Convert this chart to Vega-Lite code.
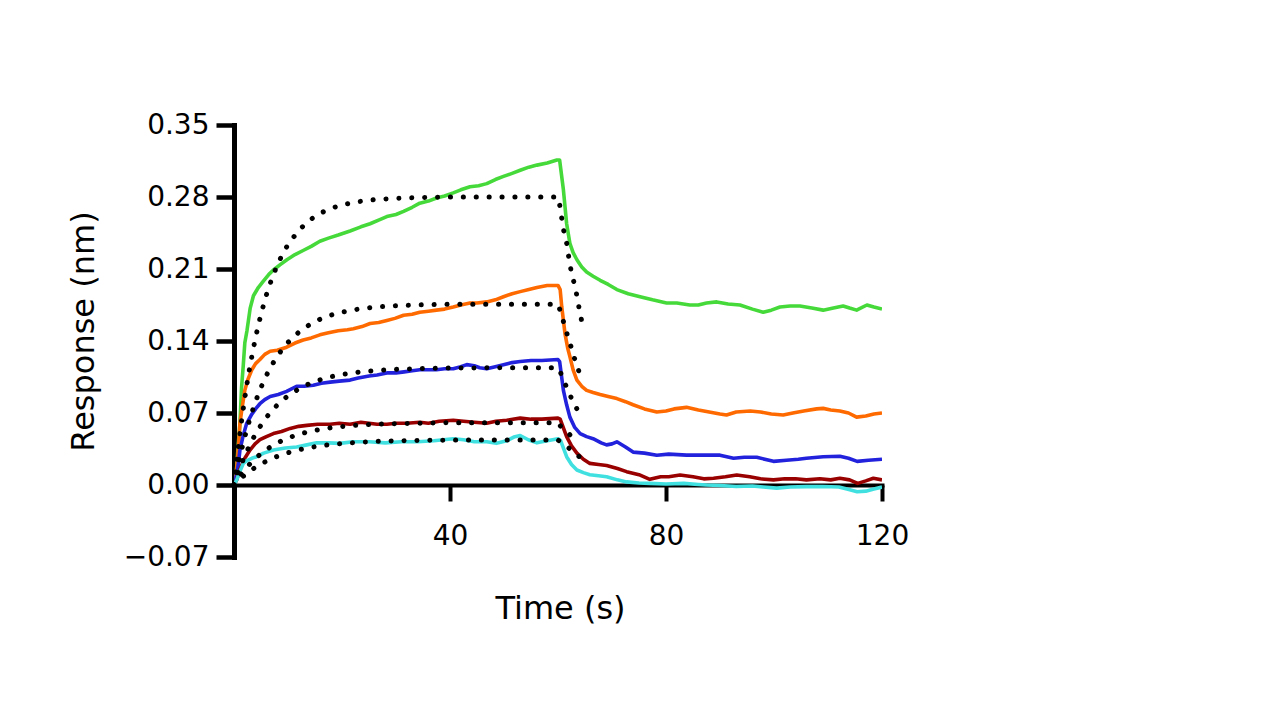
{
  "$schema": "https://vega.github.io/schema/vega-lite/v6.json",
  "width": 648,
  "height": 432,
  "autosize": {"type": "none"},
  "padding": {"left": 234, "top": 125, "right": 398, "bottom": 163},
  "background": "white",
  "config": {"view": {"stroke": null}},
  "datasets": {
    "measured": [
      {"curve":"c1","time":0,"resp":0},{"curve":"c1","time":0.4,"resp":0.01},{"curve":"c1","time":0.8,"resp":0.04},{"curve":"c1","time":1.1,"resp":0.06},{"curve":"c1","time":1.4,"resp":0.095},{"curve":"c1","time":1.7,"resp":0.115},{"curve":"c1","time":2.0,"resp":0.138},{"curve":"c1","time":2.4,"resp":0.15},{"curve":"c1","time":3.0,"resp":0.172},{"curve":"c1","time":3.6,"resp":0.184},{"curve":"c1","time":4.5,"resp":0.192},{"curve":"c1","time":5.4,"resp":0.198},{"curve":"c1","time":6.5,"resp":0.205},{"curve":"c1","time":7.3,"resp":0.209},{"curve":"c1","time":8.5,"resp":0.214},{"curve":"c1","time":9.8,"resp":0.219},{"curve":"c1","time":11.3,"resp":0.224},{"curve":"c1","time":12.8,"resp":0.228},{"curve":"c1","time":14.3,"resp":0.232},{"curve":"c1","time":15.9,"resp":0.237},{"curve":"c1","time":17.5,"resp":0.24},{"curve":"c1","time":19.3,"resp":0.243},{"curve":"c1","time":21.5,"resp":0.247},{"curve":"c1","time":23.5,"resp":0.251},{"curve":"c1","time":25.2,"resp":0.254},{"curve":"c1","time":27,"resp":0.258},{"curve":"c1","time":28.3,"resp":0.261},{"curve":"c1","time":30,"resp":0.263},{"curve":"c1","time":31.4,"resp":0.266},{"curve":"c1","time":33,"resp":0.27},{"curve":"c1","time":34.4,"resp":0.274},{"curve":"c1","time":36,"resp":0.276},{"curve":"c1","time":37.5,"resp":0.279},{"curve":"c1","time":39,"resp":0.281},{"curve":"c1","time":40.6,"resp":0.284},{"curve":"c1","time":42,"resp":0.287},{"curve":"c1","time":43.7,"resp":0.29},{"curve":"c1","time":45.3,"resp":0.291},{"curve":"c1","time":46.8,"resp":0.293},{"curve":"c1","time":48.4,"resp":0.297},{"curve":"c1","time":49.9,"resp":0.3},{"curve":"c1","time":51.5,"resp":0.303},{"curve":"c1","time":53,"resp":0.306},{"curve":"c1","time":54.6,"resp":0.309},{"curve":"c1","time":56.1,"resp":0.311},{"curve":"c1","time":58,"resp":0.313},{"curve":"c1","time":59.8,"resp":0.316},{"curve":"c1","time":60.3,"resp":0.316},{"curve":"c1","time":61,"resp":0.287},{"curve":"c1","time":61.6,"resp":0.254},{"curve":"c1","time":62.2,"resp":0.235},{"curve":"c1","time":62.8,"resp":0.226},{"curve":"c1","time":63.5,"resp":0.219},{"curve":"c1","time":64.4,"resp":0.212},{"curve":"c1","time":65.3,"resp":0.207},{"curve":"c1","time":66.5,"resp":0.203},{"curve":"c1","time":67.8,"resp":0.199},{"curve":"c1","time":69.3,"resp":0.195},{"curve":"c1","time":70.9,"resp":0.19},{"curve":"c1","time":73,"resp":0.186},{"curve":"c1","time":75.2,"resp":0.183},{"curve":"c1","time":77.5,"resp":0.18},{"curve":"c1","time":80.1,"resp":0.177},{"curve":"c1","time":82,"resp":0.177},{"curve":"c1","time":84.4,"resp":0.175},{"curve":"c1","time":86,"resp":0.175},{"curve":"c1","time":87.5,"resp":0.177},{"curve":"c1","time":89.4,"resp":0.178},{"curve":"c1","time":91.5,"resp":0.176},{"curve":"c1","time":93.7,"resp":0.175},{"curve":"c1","time":96,"resp":0.171},{"curve":"c1","time":98,"resp":0.168},{"curve":"c1","time":99.5,"resp":0.17},{"curve":"c1","time":101.1,"resp":0.173},{"curve":"c1","time":103,"resp":0.174},{"curve":"c1","time":104.8,"resp":0.174},{"curve":"c1","time":107,"resp":0.172},{"curve":"c1","time":109.1,"resp":0.17},{"curve":"c1","time":111,"resp":0.172},{"curve":"c1","time":112.8,"resp":0.174},{"curve":"c1","time":114,"resp":0.172},{"curve":"c1","time":115.3,"resp":0.17},{"curve":"c1","time":117.2,"resp":0.175},{"curve":"c1","time":118.5,"resp":0.173},{"curve":"c1","time":120,"resp":0.171},

      {"curve":"c2","time":0,"resp":0},{"curve":"c2","time":0.4,"resp":0.01},{"curve":"c2","time":0.8,"resp":0.035},{"curve":"c2","time":1.1,"resp":0.06},{"curve":"c2","time":1.5,"resp":0.075},{"curve":"c2","time":2.0,"resp":0.092},{"curve":"c2","time":2.6,"resp":0.103},{"curve":"c2","time":3.3,"resp":0.112},{"curve":"c2","time":4.0,"resp":0.118},{"curve":"c2","time":4.8,"resp":0.122},{"curve":"c2","time":5.7,"resp":0.127},{"curve":"c2","time":6.7,"resp":0.13},{"curve":"c2","time":8,"resp":0.131},{"curve":"c2","time":9.75,"resp":0.134},{"curve":"c2","time":11.3,"resp":0.138},{"curve":"c2","time":12.8,"resp":0.141},{"curve":"c2","time":14.3,"resp":0.143},{"curve":"c2","time":15.9,"resp":0.146},{"curve":"c2","time":17.5,"resp":0.148},{"curve":"c2","time":19.3,"resp":0.15},{"curve":"c2","time":21,"resp":0.151},{"curve":"c2","time":22.1,"resp":0.152},{"curve":"c2","time":23.7,"resp":0.154},{"curve":"c2","time":25.2,"resp":0.157},{"curve":"c2","time":26.8,"resp":0.158},{"curve":"c2","time":28.3,"resp":0.16},{"curve":"c2","time":29.8,"resp":0.162},{"curve":"c2","time":31.4,"resp":0.165},{"curve":"c2","time":33,"resp":0.166},{"curve":"c2","time":34.4,"resp":0.168},{"curve":"c2","time":36,"resp":0.169},{"curve":"c2","time":37.5,"resp":0.17},{"curve":"c2","time":39,"resp":0.171},{"curve":"c2","time":40.6,"resp":0.173},{"curve":"c2","time":42,"resp":0.175},{"curve":"c2","time":43.7,"resp":0.177},{"curve":"c2","time":45,"resp":0.177},{"curve":"c2","time":46.8,"resp":0.178},{"curve":"c2","time":48.4,"resp":0.18},{"curve":"c2","time":49.9,"resp":0.183},{"curve":"c2","time":51.5,"resp":0.186},{"curve":"c2","time":53,"resp":0.188},{"curve":"c2","time":54.6,"resp":0.19},{"curve":"c2","time":56.1,"resp":0.192},{"curve":"c2","time":58,"resp":0.194},{"curve":"c2","time":60,"resp":0.194},{"curve":"c2","time":60.4,"resp":0.19},{"curve":"c2","time":60.7,"resp":0.173},{"curve":"c2","time":61.3,"resp":0.147},{"curve":"c2","time":61.8,"resp":0.133},{"curve":"c2","time":62.2,"resp":0.125},{"curve":"c2","time":62.8,"resp":0.112},{"curve":"c2","time":63.5,"resp":0.102},{"curve":"c2","time":64.4,"resp":0.096},{"curve":"c2","time":65.3,"resp":0.092},{"curve":"c2","time":66.5,"resp":0.09},{"curve":"c2","time":67.8,"resp":0.088},{"curve":"c2","time":69.3,"resp":0.086},{"curve":"c2","time":70.9,"resp":0.084},{"curve":"c2","time":72.5,"resp":0.081},{"curve":"c2","time":73.9,"resp":0.078},{"curve":"c2","time":76,"resp":0.074},{"curve":"c2","time":78.3,"resp":0.071},{"curve":"c2","time":80,"resp":0.072},{"curve":"c2","time":81.5,"resp":0.074},{"curve":"c2","time":83.8,"resp":0.0755},{"curve":"c2","time":86,"resp":0.073},{"curve":"c2","time":88,"resp":0.071},{"curve":"c2","time":90,"resp":0.069},{"curve":"c2","time":91.2,"resp":0.068},{"curve":"c2","time":93,"resp":0.071},{"curve":"c2","time":95.6,"resp":0.072},{"curve":"c2","time":97.5,"resp":0.071},{"curve":"c2","time":99.5,"resp":0.069},{"curve":"c2","time":101.7,"resp":0.068},{"curve":"c2","time":103.5,"resp":0.07},{"curve":"c2","time":105.5,"resp":0.072},{"curve":"c2","time":107.9,"resp":0.074},{"curve":"c2","time":109.1,"resp":0.0745},{"curve":"c2","time":110.5,"resp":0.073},{"curve":"c2","time":112.2,"resp":0.072},{"curve":"c2","time":113.8,"resp":0.07},{"curve":"c2","time":115.3,"resp":0.066},{"curve":"c2","time":117,"resp":0.067},{"curve":"c2","time":118.5,"resp":0.069},{"curve":"c2","time":120,"resp":0.07},

      {"curve":"c3","time":0,"resp":0},{"curve":"c3","time":0.4,"resp":0.008},{"curve":"c3","time":0.8,"resp":0.02},{"curve":"c3","time":1.1,"resp":0.034},{"curve":"c3","time":1.7,"resp":0.048},{"curve":"c3","time":2.35,"resp":0.06},{"curve":"c3","time":3.2,"resp":0.068},{"curve":"c3","time":4.0,"resp":0.074},{"curve":"c3","time":4.8,"resp":0.079},{"curve":"c3","time":5.7,"resp":0.083},{"curve":"c3","time":6.7,"resp":0.086},{"curve":"c3","time":8.2,"resp":0.088},{"curve":"c3","time":9.75,"resp":0.091},{"curve":"c3","time":11.6,"resp":0.096},{"curve":"c3","time":13,"resp":0.096},{"curve":"c3","time":14.7,"resp":0.097},{"curve":"c3","time":16.2,"resp":0.099},{"curve":"c3","time":17.8,"resp":0.1},{"curve":"c3","time":19.5,"resp":0.101},{"curve":"c3","time":21.5,"resp":0.102},{"curve":"c3","time":23,"resp":0.104},{"curve":"c3","time":25,"resp":0.106},{"curve":"c3","time":26.5,"resp":0.107},{"curve":"c3","time":28.3,"resp":0.109},{"curve":"c3","time":30,"resp":0.109},{"curve":"c3","time":31.5,"resp":0.11},{"curve":"c3","time":33,"resp":0.111},{"curve":"c3","time":34.4,"resp":0.112},{"curve":"c3","time":36,"resp":0.112},{"curve":"c3","time":37.5,"resp":0.112},{"curve":"c3","time":39,"resp":0.113},{"curve":"c3","time":40.6,"resp":0.113},{"curve":"c3","time":42,"resp":0.115},{"curve":"c3","time":43.1,"resp":0.117},{"curve":"c3","time":44.5,"resp":0.116},{"curve":"c3","time":45.5,"resp":0.114},{"curve":"c3","time":46.8,"resp":0.113},{"curve":"c3","time":48.4,"resp":0.115},{"curve":"c3","time":49.9,"resp":0.117},{"curve":"c3","time":51.5,"resp":0.119},{"curve":"c3","time":53,"resp":0.12},{"curve":"c3","time":55,"resp":0.121},{"curve":"c3","time":57,"resp":0.121},{"curve":"c3","time":60,"resp":0.122},{"curve":"c3","time":60.3,"resp":0.12},{"curve":"c3","time":61,"resp":0.092},{"curve":"c3","time":61.6,"resp":0.078},{"curve":"c3","time":62.2,"resp":0.066},{"curve":"c3","time":63.1,"resp":0.056},{"curve":"c3","time":64.1,"resp":0.05},{"curve":"c3","time":65.3,"resp":0.047},{"curve":"c3","time":66.5,"resp":0.045},{"curve":"c3","time":68,"resp":0.041},{"curve":"c3","time":69,"resp":0.039},{"curve":"c3","time":70,"resp":0.04},{"curve":"c3","time":70.9,"resp":0.042},{"curve":"c3","time":72.5,"resp":0.037},{"curve":"c3","time":73.9,"resp":0.032},{"curve":"c3","time":76,"resp":0.031},{"curve":"c3","time":78.3,"resp":0.029},{"curve":"c3","time":80.5,"resp":0.03},{"curve":"c3","time":83.8,"resp":0.029},{"curve":"c3","time":86.5,"resp":0.029},{"curve":"c3","time":90,"resp":0.029},{"curve":"c3","time":92.5,"resp":0.026},{"curve":"c3","time":94.5,"resp":0.027},{"curve":"c3","time":96.8,"resp":0.027},{"curve":"c3","time":99.9,"resp":0.023},{"curve":"c3","time":102.3,"resp":0.024},{"curve":"c3","time":104.5,"resp":0.025},{"curve":"c3","time":106,"resp":0.026},{"curve":"c3","time":109.1,"resp":0.0275},{"curve":"c3","time":112.2,"resp":0.028},{"curve":"c3","time":113.8,"resp":0.026},{"curve":"c3","time":115.4,"resp":0.023},{"curve":"c3","time":117.5,"resp":0.024},{"curve":"c3","time":120,"resp":0.025},

      {"curve":"c4","time":0,"resp":0},{"curve":"c4","time":0.5,"resp":0.005},{"curve":"c4","time":1.1,"resp":0.015},{"curve":"c4","time":2.0,"resp":0.026},{"curve":"c4","time":2.96,"resp":0.034},{"curve":"c4","time":3.9,"resp":0.04},{"curve":"c4","time":4.8,"resp":0.044},{"curve":"c4","time":6,"resp":0.047},{"curve":"c4","time":7.3,"resp":0.05},{"curve":"c4","time":8.8,"resp":0.052},{"curve":"c4","time":10.4,"resp":0.055},{"curve":"c4","time":12,"resp":0.057},{"curve":"c4","time":13.5,"resp":0.058},{"curve":"c4","time":15.5,"resp":0.059},{"curve":"c4","time":17.8,"resp":0.059},{"curve":"c4","time":19.5,"resp":0.06},{"curve":"c4","time":21.5,"resp":0.059},{"curve":"c4","time":23.5,"resp":0.061},{"curve":"c4","time":25,"resp":0.06},{"curve":"c4","time":26.5,"resp":0.059},{"curve":"c4","time":28.3,"resp":0.059},{"curve":"c4","time":30,"resp":0.06},{"curve":"c4","time":32,"resp":0.06},{"curve":"c4","time":34.4,"resp":0.061},{"curve":"c4","time":36,"resp":0.06},{"curve":"c4","time":38,"resp":0.062},{"curve":"c4","time":40.6,"resp":0.063},{"curve":"c4","time":42.5,"resp":0.062},{"curve":"c4","time":44.5,"resp":0.061},{"curve":"c4","time":46.8,"resp":0.06},{"curve":"c4","time":48.5,"resp":0.062},{"curve":"c4","time":50.5,"resp":0.063},{"curve":"c4","time":53,"resp":0.065},{"curve":"c4","time":55,"resp":0.064},{"curve":"c4","time":57,"resp":0.064},{"curve":"c4","time":60,"resp":0.065},{"curve":"c4","time":60.4,"resp":0.064},{"curve":"c4","time":61.6,"resp":0.047},{"curve":"c4","time":62.5,"resp":0.038},{"curve":"c4","time":63.5,"resp":0.031},{"curve":"c4","time":64.7,"resp":0.025},{"curve":"c4","time":65.9,"resp":0.021},{"curve":"c4","time":67.5,"resp":0.02},{"curve":"c4","time":69,"resp":0.019},{"curve":"c4","time":71,"resp":0.016},{"curve":"c4","time":72.7,"resp":0.013},{"curve":"c4","time":75,"resp":0.01},{"curve":"c4","time":77,"resp":0.0055},{"curve":"c4","time":79,"resp":0.008},{"curve":"c4","time":80.5,"resp":0.008},{"curve":"c4","time":82.6,"resp":0.0097},{"curve":"c4","time":85,"resp":0.008},{"curve":"c4","time":87,"resp":0.006},{"curve":"c4","time":88.8,"resp":0.0065},{"curve":"c4","time":91,"resp":0.008},{"curve":"c4","time":93.1,"resp":0.0097},{"curve":"c4","time":95.5,"resp":0.008},{"curve":"c4","time":97.5,"resp":0.006},{"curve":"c4","time":99.9,"resp":0.005},{"curve":"c4","time":102,"resp":0.006},{"curve":"c4","time":104,"resp":0.006},{"curve":"c4","time":106,"resp":0.005},{"curve":"c4","time":108.5,"resp":0.006},{"curve":"c4","time":110.5,"resp":0.005},{"curve":"c4","time":112.2,"resp":0.0065},{"curve":"c4","time":114,"resp":0.005},{"curve":"c4","time":115.5,"resp":0.0016},{"curve":"c4","time":117,"resp":0.004},{"curve":"c4","time":118.4,"resp":0.0065},{"curve":"c4","time":120,"resp":0.005},

      {"curve":"c5","time":0,"resp":0},{"curve":"c5","time":0.5,"resp":0.005},{"curve":"c5","time":1.0,"resp":0.012},{"curve":"c5","time":1.73,"resp":0.021},{"curve":"c5","time":2.5,"resp":0.024},{"curve":"c5","time":3.3,"resp":0.026},{"curve":"c5","time":4.2,"resp":0.0275},{"curve":"c5","time":5.5,"resp":0.031},{"curve":"c5","time":7.3,"resp":0.034},{"curve":"c5","time":9.5,"resp":0.036},{"curve":"c5","time":11.6,"resp":0.037},{"curve":"c5","time":13.5,"resp":0.039},{"curve":"c5","time":15.3,"resp":0.041},{"curve":"c5","time":17.5,"resp":0.041},{"curve":"c5","time":19.6,"resp":0.0405},{"curve":"c5","time":22.1,"resp":0.042},{"curve":"c5","time":25,"resp":0.042},{"curve":"c5","time":28,"resp":0.041},{"curve":"c5","time":31,"resp":0.042},{"curve":"c5","time":34,"resp":0.042},{"curve":"c5","time":37,"resp":0.043},{"curve":"c5","time":40.6,"resp":0.045},{"curve":"c5","time":42.5,"resp":0.044},{"curve":"c5","time":44.5,"resp":0.042},{"curve":"c5","time":46.8,"resp":0.042},{"curve":"c5","time":48.6,"resp":0.0405},{"curve":"c5","time":50.5,"resp":0.043},{"curve":"c5","time":52,"resp":0.047},{"curve":"c5","time":53,"resp":0.048},{"curve":"c5","time":54.5,"resp":0.044},{"curve":"c5","time":56.1,"resp":0.041},{"curve":"c5","time":58,"resp":0.043},{"curve":"c5","time":60,"resp":0.045},{"curve":"c5","time":60.5,"resp":0.043},{"curve":"c5","time":61.6,"resp":0.0275},{"curve":"c5","time":62.5,"resp":0.02},{"curve":"c5","time":63.5,"resp":0.0146},{"curve":"c5","time":64.7,"resp":0.012},{"curve":"c5","time":65.9,"resp":0.01},{"curve":"c5","time":67.5,"resp":0.009},{"curve":"c5","time":69,"resp":0.008},{"curve":"c5","time":71,"resp":0.005},{"curve":"c5","time":72.7,"resp":0.003},{"curve":"c5","time":75,"resp":0.002},{"curve":"c5","time":77,"resp":0.0016},{"curve":"c5","time":80,"resp":0.001},{"curve":"c5","time":83.3,"resp":0.0016},{"curve":"c5","time":86,"resp":0.0005},{"curve":"c5","time":87.5,"resp":0},{"curve":"c5","time":90,"resp":-0.0005},{"curve":"c5","time":93,"resp":-0.0015},{"curve":"c5","time":96,"resp":-0.001},{"curve":"c5","time":98,"resp":-0.002},{"curve":"c5","time":100.5,"resp":-0.003},{"curve":"c5","time":103,"resp":-0.002},{"curve":"c5","time":106,"resp":-0.0016},{"curve":"c5","time":109,"resp":-0.0015},{"curve":"c5","time":112,"resp":-0.002},{"curve":"c5","time":113.5,"resp":-0.004},{"curve":"c5","time":115.4,"resp":-0.0065},{"curve":"c5","time":117,"resp":-0.006},{"curve":"c5","time":118.5,"resp":-0.004},{"curve":"c5","time":120,"resp":-0.002}
    ],
    "fit": [
      {"curve":"c1","time":0,"resp":0},{"curve":"c1","time":0.5,"resp":0.0241},{"curve":"c1","time":1,"resp":0.0461},{"curve":"c1","time":1.5,"resp":0.0662},{"curve":"c1","time":2,"resp":0.0846},{"curve":"c1","time":2.5,"resp":0.1015},{"curve":"c1","time":3,"resp":0.1168},{"curve":"c1","time":4,"resp":0.1437},{"curve":"c1","time":5,"resp":0.1662},{"curve":"c1","time":6,"resp":0.1849},{"curve":"c1","time":7,"resp":0.2006},{"curve":"c1","time":8,"resp":0.2137},{"curve":"c1","time":9,"resp":0.2246},{"curve":"c1","time":10,"resp":0.2337},{"curve":"c1","time":12,"resp":0.2477},{"curve":"c1","time":14,"resp":0.2575},{"curve":"c1","time":16,"resp":0.2643},{"curve":"c1","time":18,"resp":0.269},{"curve":"c1","time":20,"resp":0.2724},{"curve":"c1","time":23,"resp":0.2755},{"curve":"c1","time":26,"resp":0.2774},{"curve":"c1","time":30,"resp":0.2787},{"curve":"c1","time":35,"resp":0.2796},{"curve":"c1","time":40,"resp":0.28},{"curve":"c1","time":50,"resp":0.28},{"curve":"c1","time":60,"resp":0.28},{"curve":"c1","time":60.4,"resp":0.27},{"curve":"c1","time":60.7,"resp":0.259},{"curve":"c1","time":61.1,"resp":0.246},{"curve":"c1","time":61.7,"resp":0.233},{"curve":"c1","time":62.0,"resp":0.221},{"curve":"c1","time":62.4,"resp":0.209},{"curve":"c1","time":63.0,"resp":0.196},{"curve":"c1","time":63.5,"resp":0.184},{"curve":"c1","time":63.9,"resp":0.172},{"curve":"c1","time":64.4,"resp":0.159},

      {"curve":"c2","time":0,"resp":0},{"curve":"c2","time":0.5,"resp":0.0131},{"curve":"c2","time":1,"resp":0.0253},{"curve":"c2","time":1.5,"resp":0.0365},{"curve":"c2","time":2,"resp":0.0469},{"curve":"c2","time":3,"resp":0.0655},{"curve":"c2","time":4,"resp":0.0813},{"curve":"c2","time":5,"resp":0.0949},{"curve":"c2","time":6,"resp":0.1066},{"curve":"c2","time":7,"resp":0.1165},{"curve":"c2","time":8,"resp":0.1251},{"curve":"c2","time":9,"resp":0.1324},{"curve":"c2","time":10,"resp":0.1387},{"curve":"c2","time":12,"resp":0.1486},{"curve":"c2","time":14,"resp":0.1559},{"curve":"c2","time":16,"resp":0.1613},{"curve":"c2","time":18,"resp":0.1652},{"curve":"c2","time":20,"resp":0.1681},{"curve":"c2","time":23,"resp":0.171},{"curve":"c2","time":26,"resp":0.1729},{"curve":"c2","time":30,"resp":0.1743},{"curve":"c2","time":35,"resp":0.1752},{"curve":"c2","time":40,"resp":0.1757},{"curve":"c2","time":50,"resp":0.1757},{"curve":"c2","time":60,"resp":0.1757},{"curve":"c2","time":60.5,"resp":0.168},{"curve":"c2","time":61,"resp":0.159},{"curve":"c2","time":61.5,"resp":0.15},{"curve":"c2","time":62,"resp":0.141},{"curve":"c2","time":62.5,"resp":0.133},{"curve":"c2","time":63,"resp":0.124},{"curve":"c2","time":63.5,"resp":0.116},{"curve":"c2","time":64.3,"resp":0.104},

      {"curve":"c3","time":0,"resp":0},{"curve":"c3","time":0.5,"resp":0.0079},{"curve":"c3","time":1,"resp":0.0152},{"curve":"c3","time":1.5,"resp":0.022},{"curve":"c3","time":2,"resp":0.0284},{"curve":"c3","time":3,"resp":0.0398},{"curve":"c3","time":4,"resp":0.0497},{"curve":"c3","time":5,"resp":0.0582},{"curve":"c3","time":6,"resp":0.0657},{"curve":"c3","time":7,"resp":0.0721},{"curve":"c3","time":8,"resp":0.0777},{"curve":"c3","time":9,"resp":0.0825},{"curve":"c3","time":10,"resp":0.0867},{"curve":"c3","time":12,"resp":0.0935},{"curve":"c3","time":14,"resp":0.0986},{"curve":"c3","time":16,"resp":0.1024},{"curve":"c3","time":18,"resp":0.1053},{"curve":"c3","time":20,"resp":0.1075},{"curve":"c3","time":23,"resp":0.1097},{"curve":"c3","time":26,"resp":0.1112},{"curve":"c3","time":30,"resp":0.1124},{"curve":"c3","time":35,"resp":0.1132},{"curve":"c3","time":40,"resp":0.1137},{"curve":"c3","time":50,"resp":0.114},{"curve":"c3","time":60,"resp":0.114},{"curve":"c3","time":60.5,"resp":0.109},{"curve":"c3","time":61,"resp":0.102},{"curve":"c3","time":61.7,"resp":0.094},{"curve":"c3","time":62.6,"resp":0.083},{"curve":"c3","time":63.7,"resp":0.072},

      {"curve":"c4","time":0,"resp":0},{"curve":"c4","time":0.5,"resp":0.0041},{"curve":"c4","time":1,"resp":0.0079},{"curve":"c4","time":1.5,"resp":0.0115},{"curve":"c4","time":2,"resp":0.0148},{"curve":"c4","time":3,"resp":0.0208},{"curve":"c4","time":4,"resp":0.026},{"curve":"c4","time":5,"resp":0.0305},{"curve":"c4","time":6,"resp":0.0344},{"curve":"c4","time":7,"resp":0.0379},{"curve":"c4","time":8,"resp":0.0408},{"curve":"c4","time":9,"resp":0.0434},{"curve":"c4","time":10,"resp":0.0457},{"curve":"c4","time":12,"resp":0.0493},{"curve":"c4","time":14,"resp":0.0521},{"curve":"c4","time":16,"resp":0.0541},{"curve":"c4","time":18,"resp":0.0557},{"curve":"c4","time":20,"resp":0.0569},{"curve":"c4","time":23,"resp":0.0582},{"curve":"c4","time":26,"resp":0.059},{"curve":"c4","time":30,"resp":0.0597},{"curve":"c4","time":35,"resp":0.0602},{"curve":"c4","time":40,"resp":0.0605},{"curve":"c4","time":50,"resp":0.0605},{"curve":"c4","time":60,"resp":0.0605},{"curve":"c4","time":60.5,"resp":0.057},{"curve":"c4","time":61.2,"resp":0.054},{"curve":"c4","time":62,"resp":0.05},{"curve":"c4","time":62.8,"resp":0.045},{"curve":"c4","time":63.7,"resp":0.04},

      {"curve":"c5","time":0,"resp":0},{"curve":"c5","time":0.5,"resp":0.0027},{"curve":"c5","time":1,"resp":0.0052},{"curve":"c5","time":1.5,"resp":0.0075},{"curve":"c5","time":2,"resp":0.0097},{"curve":"c5","time":3,"resp":0.0138},{"curve":"c5","time":4,"resp":0.0173},{"curve":"c5","time":5,"resp":0.0204},{"curve":"c5","time":6,"resp":0.0232},{"curve":"c5","time":7,"resp":0.0257},{"curve":"c5","time":8,"resp":0.0278},{"curve":"c5","time":9,"resp":0.0297},{"curve":"c5","time":10,"resp":0.0314},{"curve":"c5","time":12,"resp":0.0342},{"curve":"c5","time":14,"resp":0.0364},{"curve":"c5","time":16,"resp":0.038},{"curve":"c5","time":18,"resp":0.0394},{"curve":"c5","time":20,"resp":0.0404},{"curve":"c5","time":23,"resp":0.0415},{"curve":"c5","time":26,"resp":0.0423},{"curve":"c5","time":30,"resp":0.043},{"curve":"c5","time":35,"resp":0.0434},{"curve":"c5","time":40,"resp":0.0437},{"curve":"c5","time":50,"resp":0.0437},{"curve":"c5","time":60,"resp":0.0437},{"curve":"c5","time":61,"resp":0.04},{"curve":"c5","time":62,"resp":0.036},{"curve":"c5","time":63,"resp":0.031},{"curve":"c5","time":64.1,"resp":0.027}
    ]
  },
  "encoding": {
    "x": {
      "field": "time", "type": "quantitative",
      "scale": {"domain": [0, 120], "nice": false, "zero": false},
      "axis": {
        "values": [40, 80, 120], "offset": -72, "grid": false,
        "domainColor": "black", "domainWidth": 4, "domainCap": "square",
        "tickColor": "black", "tickWidth": 4, "tickSize": 16,
        "labelFont": "DejaVu Sans", "labelFontSize": 28, "labelColor": "black",
        "labelPadding": 21, "labelFlush": false, "labelOverlap": false,
        "title": "Time (s)", "titleFont": "DejaVu Sans", "titleFontSize": 32,
        "titleFontWeight": "normal", "titleColor": "black",
        "titleX": 326, "titleY": 133, "titleAlign": "center", "titleBaseline": "alphabetic"
      }
    },
    "y": {
      "field": "resp", "type": "quantitative",
      "scale": {"domain": [-0.07, 0.35], "nice": false, "zero": false},
      "axis": {
        "values": [-0.07, 0, 0.07, 0.14, 0.21, 0.28, 0.35], "format": ".2f", "grid": false,
        "domainColor": "black", "domainWidth": 5, "domainCap": "square",
        "tickColor": "black", "tickWidth": 4.5, "tickSize": 18,
        "labelFont": "DejaVu Sans", "labelFontSize": 28, "labelColor": "black",
        "labelPadding": 7, "labelOverlap": false,
        "title": "Response (nm)", "titleFont": "DejaVu Sans", "titleFontSize": 32,
        "titleFontWeight": "normal", "titleColor": "black",
        "titleAngle": 270, "titleX": -141, "titleY": 206, "titleAlign": "center", "titleBaseline": "alphabetic"
      }
    }
  },
  "layer": [
    {
      "data": {"name": "measured"},
      "mark": {"type": "line", "strokeWidth": 3.6, "strokeJoin": "round", "clip": true},
      "encoding": {
        "color": {
          "field": "curve", "type": "nominal",
          "scale": {"domain": ["c1", "c2", "c3", "c4", "c5"], "range": ["#46d93a", "#ff6a00", "#2222dd", "#990000", "#40e0e0"]},
          "legend": null
        }
      }
    },
    {
      "data": {"name": "fit"},
      "mark": {"type": "line", "color": "black", "strokeWidth": 5, "strokeCap": "round", "strokeDash": [0.1, 12.8]},
      "encoding": {
        "detail": {"field": "curve", "type": "nominal"}
      }
    }
  ]
}
